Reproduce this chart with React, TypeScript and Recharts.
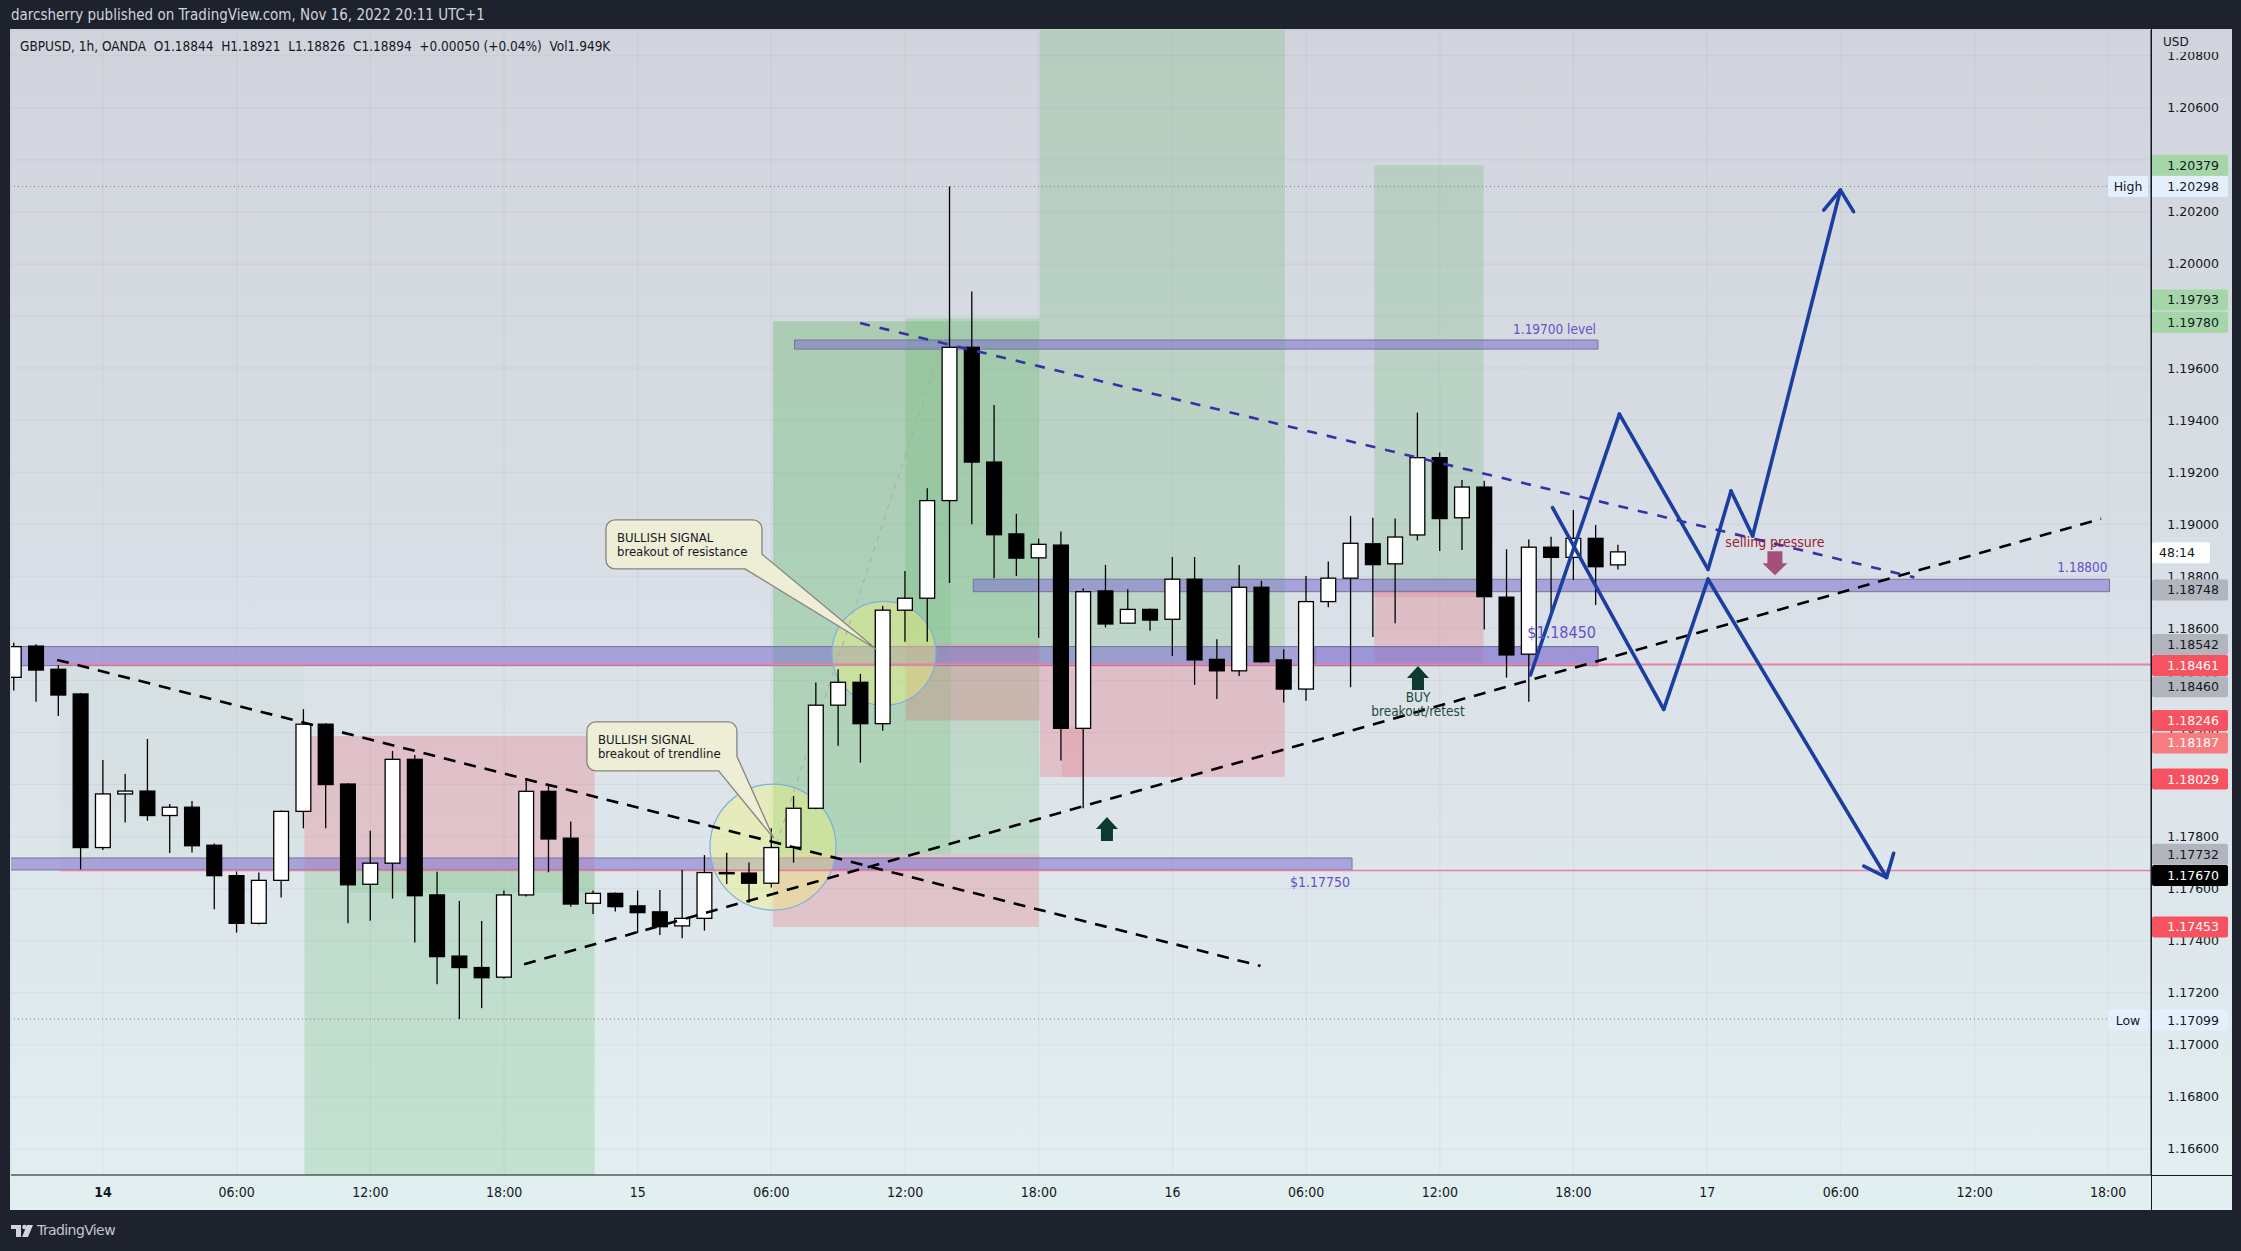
import React from "react";
import {
  ComposedChart,
  Bar,
  XAxis,
  YAxis,
  CartesianGrid,
  ReferenceArea,
  ReferenceLine,
  ReferenceDot,
} from "recharts";

const W = 2241;
const H = 1251;
const PLOT_RIGHT = 2151;
const PLOT_BOTTOM = 1175;

const X_MIN = -4.13;
const X_MAX = 91.92;
const Y_MIN = 1.165;
const Y_MAX = 1.20899;

const NARROW = "'Liberation Sans Narrow', 'DejaVu Sans Condensed', 'Roboto Condensed', Roboto, sans-serif";
const SANS = "'DejaVu Sans', 'Noto Sans', sans-serif";

// hours since Nov 14 00:00 (1h candles)
const hours = [
  -4, -3, -2, -1, 0, 1, 2, 3, 4, 5, 6, 7, 8, 9, 10, 11, 12, 13, 14, 15, 16, 17, 18, 19, 20,
  21, 22, 23, 24, 25, 26, 27, 28, 29, 30, 31, 32, 33, 34, 35, 36, 37, 38, 39, 40, 41, 42, 43,
  44, 45, 46, 47, 48, 49, 50, 51, 52, 53, 54, 55, 56, 57, 58, 59, 60, 61, 62, 63, 64, 65, 66,
  67, 68,
];
const opens = [
  1.18412, 1.18532, 1.18443, 1.18348, 1.17758, 1.17964, 1.17975, 1.17881, 1.17913, 1.17767,
  1.1765, 1.17467, 1.17632, 1.17897, 1.18232, 1.18002, 1.17617, 1.17698, 1.18097, 1.17576,
  1.17341, 1.17297, 1.1726, 1.17576, 1.17974, 1.17794, 1.17544, 1.17582, 1.17534, 1.17511,
  1.17457, 1.17486, 1.17662, 1.1766, 1.17621, 1.17759, 1.17909, 1.18305, 1.18393, 1.18234,
  1.1867, 1.18716, 1.19091, 1.1968, 1.19239, 1.18963, 1.18871, 1.1892, 1.18216, 1.18744,
  1.1862, 1.18673, 1.18635, 1.18789, 1.18481, 1.18437, 1.18758, 1.18479, 1.18367, 1.18703,
  1.18793, 1.18925, 1.18848, 1.18959, 1.19256, 1.19025, 1.19143, 1.1872, 1.18501, 1.18912,
  1.18873, 1.18946, 1.18844,
];
const highs = [
  1.18545, 1.18539, 1.18459, 1.18352, 1.18094, 1.18041, 1.18175, 1.17925, 1.17937, 1.17774,
  1.17666, 1.17662, 1.179, 1.1829, 1.18236, 1.18005, 1.17823, 1.18129, 1.18114, 1.17665,
  1.17553, 1.17476, 1.17593, 1.18024, 1.18002, 1.17858, 1.17593, 1.17585, 1.17593, 1.17595,
  1.17672, 1.17729, 1.17738, 1.17701, 1.17832, 1.17956, 1.18392, 1.18443, 1.18425, 1.18686,
  1.18821, 1.19138, 1.20298, 1.19894, 1.19458, 1.1904, 1.18945, 1.18972, 1.18754, 1.18844,
  1.1875, 1.18676, 1.18874, 1.18874, 1.18558, 1.18844, 1.18783, 1.1852, 1.18801, 1.18857,
  1.19032, 1.19025, 1.19022, 1.19429, 1.19276, 1.1917, 1.19167, 1.18904, 1.18942, 1.18952,
  1.19055, 1.18997, 1.18921,
];
const lows = [
  1.18361, 1.18318, 1.18263, 1.17674, 1.17749, 1.17854, 1.17861, 1.17737, 1.17739, 1.17521,
  1.17431, 1.17462, 1.17566, 1.17832, 1.17832, 1.17467, 1.17477, 1.17562, 1.17393, 1.17233,
  1.17099, 1.17141, 1.17254, 1.1757, 1.17663, 1.17531, 1.17503, 1.17512, 1.17429, 1.17422,
  1.1741, 1.17439, 1.17618, 1.17546, 1.17605, 1.177, 1.17905, 1.18149, 1.18084, 1.18207,
  1.18549, 1.18549, 1.18774, 1.19, 1.18793, 1.18801, 1.18564, 1.18092, 1.17909, 1.18604,
  1.18618, 1.18591, 1.18494, 1.18383, 1.18329, 1.18417, 1.18468, 1.18315, 1.18322, 1.18681,
  1.18374, 1.18567, 1.1862, 1.18938, 1.18897, 1.18901, 1.18596, 1.18411, 1.18318, 1.18658,
  1.18786, 1.1869, 1.18826,
];
const closes = [
  1.1853, 1.1844, 1.18344, 1.17758, 1.17964, 1.17975, 1.17881, 1.17913, 1.17765, 1.1765,
  1.17467, 1.17632, 1.17897, 1.18232, 1.18, 1.17615, 1.17698, 1.18097, 1.17573, 1.17339,
  1.17297, 1.17258, 1.17576, 1.17974, 1.17791, 1.17541, 1.17582, 1.17531, 1.17508, 1.17454,
  1.17486, 1.17662, 1.17658, 1.17621, 1.17758, 1.17909, 1.18305, 1.18393, 1.18234, 1.1867,
  1.18716, 1.19091, 1.1968, 1.19239, 1.1896, 1.1887, 1.18923, 1.18216, 1.18741, 1.18617,
  1.18673, 1.18632, 1.18789, 1.18479, 1.18437, 1.18758, 1.18472, 1.18367, 1.18703, 1.18793,
  1.18927, 1.18845, 1.18951, 1.19256, 1.19022, 1.19143, 1.18722, 1.18498, 1.18912, 1.18873,
  1.18946, 1.18837, 1.18894,
];

const timeTicks = [0, 6, 12, 18, 24, 30, 36, 42, 48, 54, 60, 66, 72, 78, 84, 90];
const timeLabels = [
  "14", "06:00", "12:00", "18:00", "15", "06:00", "12:00", "18:00",
  "16", "06:00", "12:00", "18:00", "17", "06:00", "12:00", "18:00",
];
const priceTicks = [
  1.166, 1.168, 1.17, 1.172, 1.174, 1.176, 1.178, 1.18, 1.182, 1.184, 1.186, 1.188, 1.19,
  1.192, 1.194, 1.196, 1.198, 1.2, 1.202, 1.204, 1.206, 1.208,
];

// long / short position tools
const toolStart = [9.04, 30.07, 36.04, 42.05, 57.06];
const toolEnd = [22.06, 42.0, 42.05, 53.05, 61.96];
const toolEntry = [1.1767, 1.17732, 1.18542, 1.18461, 1.18748];
const toolStop = [1.18187, 1.17453, 1.18246, 1.18029, 1.18461];
const toolTarget = [1.155, 1.1978, 1.19793, 1.22, 1.20379];

// realised profit / loss shading inside the tools
const shadeStart = [11.09, 30.07, 43.04, 57.06];
const shadeEnd = [22.07, 38.04, 44.0, 61.96];
const shadeLow = [1.17584, 1.17732, 1.18029, 1.1872];
const shadeHigh = [1.1767, 1.1978, 1.18221, 1.18748];
const shadeGain = [true, true, false, false];

// faint range box between the two lower zones
const rangeBox = [-1.93, 9.04, 1.17672, 1.18457];

// horizontal zones
const bandStart = [-4.3, 54.4, -4.3, 39.06, 31.04];
const bandEnd = [67.1, 67.1, 56.06, 90.06, 67.1];
const bandLow = [1.18457, 1.18457, 1.17672, 1.18741, 1.19673];
const bandHigh = [1.1853, 1.1853, 1.17718, 1.18789, 1.19708];

// trend lines [t1, p1, t2, p2]
const blackTrends = [
  [-2.06, 1.18479, 51.95, 1.17303],
  [18.9, 1.1731, 89.68, 1.19021],
];
const blueTrend = [33.98, 1.19773, 81.3, 1.18796];
const toolDiagonal = [30.07, 1.17732, 38.05, 1.1979];

// projected scenarios
const bullPath = [
  [64.07, 1.18421], [68.06, 1.19423], [72.04, 1.18827], [73.07, 1.19128], [74.04, 1.18955], [77.98, 1.20284],
];
const bullHead = [[77.23, 1.20207], [77.98, 1.20284], [78.57, 1.20201]];
const bearPath = [[65.06, 1.19064], [70.05, 1.18289], [72.04, 1.18789], [80.05, 1.17643]];
const bearHead = [[79.03, 1.17687], [80.05, 1.17643], [80.37, 1.17736]];

// horizontal rays
const rayPrices = [1.18461, 1.1767];
const rayStart = -1.93;
const highPrice = 1.20298;
const lowPrice = 1.17099;

// circles
const circleT = [30.07, 35.05];
const circleP = [1.1776, 1.18504];

// price scale tags
const tagPrices = [
  1.20379, 1.20298, 1.19793, 1.1978, 1.18894, 1.18748, 1.18542, 1.18461, 1.1846, 1.18246,
  1.18187, 1.18029, 1.17732, 1.1767, 1.17453, 1.17099,
];
const tagTexts = [
  "1.20379", "1.20298", "1.19793", "1.19780", "48:14", "1.18748", "1.18542", "1.18461",
  "1.18460", "1.18246", "1.18187", "1.18029", "1.17732", "1.17670", "1.17453", "1.17099",
];
const tagKinds = [
  "green", "high", "green", "green", "timer", "gray", "gray", "red", "gray", "red",
  "lightred", "red", "gray", "black", "red", "low",
];
const tagShift = [0, 0, -18, 1, 1, 0, 1, 1, 22, 0, 7, 2, 0, 5, 0, 1];

const TAG_COLORS: Record<string, { bg: string; fg: string }> = {
  green: { bg: "#a5d6a7", fg: "#131722" },
  gray: { bg: "#b2b5be", fg: "#131722" },
  red: { bg: "#f7525f", fg: "#ffffff" },
  lightred: { bg: "#f77c80", fg: "#ffffff" },
  black: { bg: "#000000", fg: "#ffffff" },
  high: { bg: "#e3effd", fg: "#131722" },
  low: { bg: "#e3effd", fg: "#131722" },
  timer: { bg: "#ffffff", fg: "#131722" },
};

const candles = hours.map((t, i) => ({ t, o: opens[i], h: highs[i], l: lows[i], c: closes[i] }));

const Candle = (props: any) => {
  const { x, y, width, height, payload } = props;
  if (x == null || y == null || !payload) return null;
  const top = Math.min(y, y + height);
  const span = Math.abs(height);
  const { o, h, l, c } = payload;
  const k = h - l > 0 ? span / (h - l) : 0;
  const yO = top + (h - o) * k;
  const yC = top + (h - c) * k;
  const cx = x + width / 2;
  const bTop = Math.min(yO, yC);
  const bH = Math.max(1.2, Math.abs(yO - yC));
  const up = c >= o;
  return (
    <g>
      <line x1={cx} x2={cx} y1={top} y2={top + span} stroke="#000" strokeWidth={1.3} />
      <rect x={x + 0.6} y={bTop} width={width - 1.2} height={bH} fill={up ? "#ffffff" : "#000000"} stroke="#000" strokeWidth={1.3} />
    </g>
  );
};

const TimeTick = (props: any) => {
  const { x, payload } = props;
  const idx = timeTicks.indexOf(payload.value);
  return (
    <text x={x} y={PLOT_BOTTOM + 22} textAnchor="middle" fontFamily={NARROW} fontSize={14} fill="#131722" fontWeight={idx === 0 ? 700 : 400}>
      {timeLabels[idx]}
    </text>
  );
};

const PriceTick = (props: any) => {
  const { y, payload } = props;
  return (
    <text x={PLOT_RIGHT + 68} y={y + 4.5} textAnchor="end" fontFamily={SANS} fontSize={12.5} fill="#131722">
      {payload.value.toFixed(5)}
    </text>
  );
};

const tagShape = (i: number) => (p: any) => {
  const { cx, cy } = p;
  const kind = tagKinds[i];
  const col = TAG_COLORS[kind];
  const yc = cy + tagShift[i];
  const w = kind === "timer" ? 58 : 76;
  return (
    <g>
      {(kind === "high" || kind === "low") && (
        <g>
          <rect x={cx - 43} y={yc - 10.5} width={40} height={21} rx={2} fill={col.bg} />
          <text x={cx - 23} y={yc + 4.5} textAnchor="middle" fontFamily={SANS} fontSize={12.5} fill={col.fg}>
            {kind === "high" ? "High" : "Low"}
          </text>
        </g>
      )}
      <rect x={cx + 1} y={yc - 10.5} width={w} height={21} rx={2} fill={col.bg} />
      <text x={kind === "timer" ? cx + 8 : cx + 68} y={yc + 4.5} textAnchor={kind === "timer" ? "start" : "end"} fontFamily={SANS} fontSize={12.5} fill={col.fg}>
        {tagTexts[i]}
      </text>
    </g>
  );
};

const textShape = (label: string, dx: number, dy: number, color: string, size: number, anchor: string) => (p: any) => (
  <text x={p.cx + dx} y={p.cy + dy} textAnchor={anchor as any} fontFamily={NARROW} fontSize={size} fill={color}>
    {label}
  </text>
);

const upArrow = (color: string) => (p: any) => {
  const { cx, cy } = p;
  return (
    <path
      d={`M${cx},${cy - 12} L${cx + 11},${cy} L${cx + 6},${cy} L${cx + 6},${cy + 12} L${cx - 6},${cy + 12} L${cx - 6},${cy} L${cx - 11},${cy} Z`}
      fill={color}
    />
  );
};

const downArrow = (color: string) => (p: any) => {
  const { cx, cy } = p;
  return (
    <path
      d={`M${cx},${cy + 12} L${cx + 12.5},${cy} L${cx + 7.5},${cy} L${cx + 7.5},${cy - 12} L${cx - 7.5},${cy - 12} L${cx - 7.5},${cy} L${cx - 12.5},${cy} Z`}
      fill={color}
    />
  );
};

const circleShape = (r: number) => (p: any) => (
  <circle cx={p.cx} cy={p.cy} r={r} fill="#f1f27a" fillOpacity={0.42} stroke="#7eaee0" strokeWidth={1.2} />
);

const calloutShape = (box: number[], base: number[], lines: string[]) => (p: any) => {
  const { cx, cy } = p;
  const [bx, by, bw, bh] = box;
  return (
    <g>
      <rect x={cx + bx} y={cy + by} width={bw} height={bh} rx={9} fill="#eeedd6" stroke="#858580" strokeWidth={1.3} />
      <path
        d={`M${cx + base[0]},${cy + base[1]} L${cx},${cy} L${cx + base[2]},${cy + base[3]}`}
        fill="#eeedd6"
        stroke="#858580"
        strokeWidth={1.3}
      />
      {lines.map((s, i) => (
        <text key={i} x={cx + bx + 11} y={cy + by + 22 + i * 14} fontFamily={NARROW} fontSize={13} fill="#131722">
          {s}
        </text>
      ))}
    </g>
  );
};

const segs = (pts: number[][]) =>
  pts.slice(1).map((pt, i) => [pts[i][0], pts[i][1], pt[0], pt[1]]);

export default function App() {
  const blue = "#1b3e9f";
  return (
    <div style={{ position: "absolute", left: 0, top: 0, width: W, height: H, background: "#1e222d", overflow: "hidden" }}>
      <div
        style={{
          position: "absolute",
          left: 10,
          top: 29,
          width: 2222,
          height: 1181,
          background: "linear-gradient(180deg, #d1d4dc 0%, #dae0e7 50%, #e2eff1 100%)",
        }}
      />
      <div style={{ position: "absolute", left: PLOT_RIGHT, top: PLOT_BOTTOM, width: 81, height: 1, background: "#131722" }} />
      <div style={{ position: "absolute", left: PLOT_RIGHT, top: 29, width: 1, height: 1181, background: "#131722" }} />
      <div
        style={{
          position: "absolute",
          left: 11,
          top: 5,
          fontFamily: NARROW,
          fontSize: 15,
          lineHeight: "20px",
          color: "#d1d4dc",
          whiteSpace: "nowrap",
        }}
      >
        darcsherry published on TradingView.com, Nov 16, 2022 20:11 UTC+1
      </div>
      <div style={{ position: "absolute", left: 0, top: 0 }}>
        <ComposedChart width={W} height={H} data={candles} margin={{ top: 30, right: 9, bottom: 41, left: 11 }}>
          <CartesianGrid stroke="#2a2e39" strokeOpacity={0.05} />
          <XAxis
            dataKey="t"
            type="number"
            domain={[X_MIN, X_MAX]}
            allowDataOverflow
            ticks={timeTicks}
            interval={0}
            tick={(p: any) => <TimeTick {...p} />}
            tickLine={false}
            axisLine={{ stroke: "#131722" }}
            height={35}
          />
          <YAxis
            orientation="right"
            type="number"
            domain={[Y_MIN, Y_MAX]}
            allowDataOverflow
            ticks={priceTicks}
            interval={0}
            tick={(p: any) => <PriceTick {...p} />}
            tickLine={false}
            axisLine={{ stroke: "#131722" }}
            width={81}
          />

          <ReferenceArea
            x1={rangeBox[0]}
            x2={rangeBox[1]}
            y1={rangeBox[2]}
            y2={rangeBox[3]}
            fill="#4caf50"
            fillOpacity={0.035}
            stroke="none"
            ifOverflow="hidden"
            zIndex={100}
          />
          {toolStart.map((s, i) => (
            <ReferenceArea
              key={`tg-${i}`}
              x1={s}
              x2={toolEnd[i]}
              y1={toolEntry[i]}
              y2={toolTarget[i]}
              fill="#4caf50"
              fillOpacity={0.2}
              stroke="none"
              ifOverflow="hidden"
              zIndex={100}
            />
          ))}
          {toolStart.map((s, i) => (
            <ReferenceArea
              key={`tr-${i}`}
              x1={s}
              x2={toolEnd[i]}
              y1={toolEntry[i]}
              y2={toolStop[i]}
              fill="#f23645"
              fillOpacity={0.2}
              stroke="none"
              ifOverflow="hidden"
              zIndex={100}
            />
          ))}
          {shadeStart.map((s, i) => (
            <ReferenceArea
              key={`sh-${i}`}
              x1={s}
              x2={shadeEnd[i]}
              y1={shadeLow[i]}
              y2={shadeHigh[i]}
              fill={shadeGain[i] ? "#4caf50" : "#f23645"}
              fillOpacity={0.13}
              stroke="none"
              ifOverflow="hidden"
              zIndex={100}
            />
          ))}
          {bandStart.map((s, i) => (
            <ReferenceArea
              key={`bd-${i}`}
              x1={s}
              x2={bandEnd[i]}
              y1={bandLow[i]}
              y2={bandHigh[i]}
              fill="#7e6fd0"
              fillOpacity={i === 1 ? 0.25 : 0.55}
              stroke="#77749a"
              strokeWidth={1}
              ifOverflow="hidden"
              zIndex={110}
            />
          ))}
          {circleT.map((t, i) => (
            <ReferenceDot key={`ci-${i}`} x={t} y={circleP[i]} r={1} shape={circleShape(i === 0 ? 63 : 52)} ifOverflow="visible" zIndex={120} />
          ))}
          <ReferenceLine
            segment={[{ x: toolDiagonal[0], y: toolDiagonal[1] }, { x: toolDiagonal[2], y: toolDiagonal[3] }]}
            stroke="#a6a9b5"
            strokeDasharray="5 6"
            strokeWidth={1}
            ifOverflow="hidden"
            zIndex={120}
          />
          {rayPrices.map((p, i) => (
            <ReferenceLine
              key={`ray-${i}`}
              segment={[{ x: rayStart, y: p }, { x: X_MAX, y: p }]}
              stroke="#ec7fa4"
              strokeWidth={i === 0 ? 2 : 1.5}
              ifOverflow="hidden"
              zIndex={130}
            />
          ))}
          {[highPrice, lowPrice].map((p, i) => (
            <ReferenceLine key={`hl-${i}`} y={p} stroke="#7c7f8a" strokeDasharray="1 3" strokeWidth={1} ifOverflow="hidden" zIndex={130} />
          ))}

          <Bar dataKey={(d: any) => [d.l, d.h]} barSize={16} shape={(p: any) => <Candle {...p} />} isAnimationActive={false} zIndex={300} />

          {blackTrends.map((s, i) => (
            <ReferenceLine
              key={`bt-${i}`}
              segment={[{ x: s[0], y: s[1] }, { x: s[2], y: s[3] }]}
              stroke="#000"
              strokeWidth={2.6}
              strokeDasharray="12 9"
              ifOverflow="hidden"
              zIndex={400}
            />
          ))}
          <ReferenceLine
            segment={[{ x: blueTrend[0], y: blueTrend[1] }, { x: blueTrend[2], y: blueTrend[3] }]}
            stroke="#3c2ea6"
            strokeWidth={2.6}
            strokeDasharray="10 10"
            ifOverflow="hidden"
            zIndex={400}
          />
          {[...segs(bullPath), ...segs(bullHead), ...segs(bearPath), ...segs(bearHead)].map((s, i) => (
            <ReferenceLine
              key={`zz-${i}`}
              segment={[{ x: s[0], y: s[1] }, { x: s[2], y: s[3] }]}
              stroke={blue}
              strokeWidth={3.6}
              strokeLinecap="round"
              ifOverflow="hidden"
              zIndex={410}
            />
          ))}

          <ReferenceDot x={45.06} y={1.17829} r={1} shape={upArrow("#0c3b2d")} ifOverflow="visible" zIndex={600} />
          <ReferenceDot x={59.02} y={1.18409} r={1} shape={upArrow("#0c3b2d")} ifOverflow="visible" zIndex={600} />
          <ReferenceDot x={59.02} y={1.18409} r={1} shape={textShape("BUY", 0, 24, "#1d4b3c", 13.5, "middle")} ifOverflow="visible" zIndex={600} />
          <ReferenceDot x={59.02} y={1.18409} r={1} shape={textShape("breakout/retest", 0, 38, "#1d4b3c", 13.5, "middle")} ifOverflow="visible" zIndex={600} />
          <ReferenceDot x={75.04} y={1.1885} r={1} shape={downArrow("#a4507c")} ifOverflow="visible" zIndex={600} />
          <ReferenceDot x={75.04} y={1.1885} r={1} shape={textShape("selling pressure", 0, -16, "#9c1b30", 14, "middle")} ifOverflow="visible" zIndex={600} />

          <ReferenceDot x={bandEnd[4]} y={bandHigh[4]} r={1} shape={textShape("1.19700 level", -2, -6, "#6650c9", 13.5, "end")} ifOverflow="visible" zIndex={600} />
          <ReferenceDot x={bandEnd[3]} y={bandHigh[3]} r={1} shape={textShape("1.18800", -2, -7, "#6650c9", 13.5, "end")} ifOverflow="visible" zIndex={600} />
          <ReferenceDot x={bandEnd[2]} y={bandLow[2]} r={1} shape={textShape("$1.17750", -2, 17, "#6650c9", 14, "end")} ifOverflow="visible" zIndex={600} />
          <ReferenceDot x={bandEnd[1]} y={bandHigh[1]} r={1} shape={textShape("$1.18450", -2, -9, "#6650c9", 16, "end")} ifOverflow="visible" zIndex={600} />

          <ReferenceDot
            x={34.71}
            y={1.1852}
            r={1}
            shape={calloutShape([-270.4, -129.3, 156, 49], [-131.4, -80.3, -114.4, -95], ["BULLISH SIGNAL", "breakout of resistance"])}
            ifOverflow="visible"
            zIndex={700}
          />
          <ReferenceDot
            x={30.1}
            y={1.17794}
            r={1}
            shape={calloutShape([-186.75, -116.3, 150, 49], [-55, -67.3, -36.75, -82], ["BULLISH SIGNAL", "breakout of trendline"])}
            ifOverflow="visible"
            zIndex={700}
          />

          {tagPrices.map((p, i) => (
            <ReferenceDot key={`tag-${i}`} x={X_MAX} y={p} r={1} shape={tagShape(i)} ifOverflow="visible" zIndex={2000} />
          ))}
        </ComposedChart>
      </div>
      <div style={{ position: "absolute", left: PLOT_RIGHT + 1, top: 30, width: 80, height: 22, background: "#d1d4dc" }} />
      <div style={{ position: "absolute", left: 2163, top: 35, fontFamily: SANS, fontSize: 12, color: "#131722" }}>USD</div>
      <div
        style={{
          position: "absolute",
          left: 20,
          top: 37,
          fontFamily: NARROW,
          fontSize: 13.5,
          lineHeight: "18px",
          color: "#131722",
          whiteSpace: "pre",
        }}
      >
        {"GBPUSD, 1h, OANDA  O1.18844  H1.18921  L1.18826  C1.18894  +0.00050 (+0.04%)  Vol1.949K"}
      </div>
      <svg style={{ position: "absolute", left: 11, top: 1224 }} width={24} height={14}>
        <path d="M0,1 H10 V13 H5 V5 H0 Z" fill="#d1d4dc" />
        <circle cx={13.5} cy={3} r={2.3} fill="#d1d4dc" />
        <path d="M16,1 H22 L17,13 H11 Z" fill="#d1d4dc" />
      </svg>
      <div
        style={{
          position: "absolute",
          left: 37,
          top: 1220,
          fontFamily: SANS,
          fontSize: 14,
          lineHeight: "20px",
          color: "#c4c6cc",
          whiteSpace: "nowrap",
          letterSpacing: -0.6,
        }}
      >
        TradingView
      </div>
    </div>
  );
}
